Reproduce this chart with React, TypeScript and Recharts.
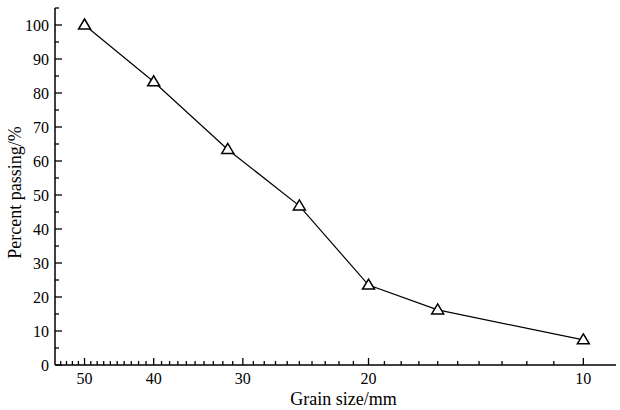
import { LineChart, Line, XAxis, YAxis, Label } from "recharts";

// grain sizes (mm) and percent passing
const sizes = [50, 40, 31.5, 25, 20, 16, 10];
const passing = [100, 83.3, 63.4, 46.8, 23.5, 16.2, 7.4];

const xMajor = [50, 40, 30, 20, 10];
const xTicks = [
  54, 53, 52, 51, 50, 49, 48, 47, 46, 45, 44, 43, 42, 41, 40, 39, 38, 37, 36, 35,
  34, 33, 32, 31, 30, 29, 28, 27, 26, 25, 24, 23, 22, 21, 20, 19, 18, 17, 16, 15,
  14, 13, 12, 11, 10,
];
const yMajor = [0, 10, 20, 30, 40, 50, 60, 70, 80, 90, 100];
const yTicks = [
  0, 5, 10, 15, 20, 25, 30, 35, 40, 45, 50, 55, 60, 65, 70, 75, 80, 85, 90, 95, 100, 105,
];

const data = sizes.map((s, i) => ({ size: s, pass: passing[i] }));

const FONT = "Liberation Serif";

function XTick(props: any) {
  const { x, y, payload } = props;
  const major = xMajor.includes(payload.value);
  return (
    <g>
      <line x1={x} y1={y} x2={x} y2={y - (major ? 7 : 4)} stroke="#000" strokeWidth={1.3} />
      {major && (
        <text x={x} y={y + 19} textAnchor="middle" fontSize={16} fontFamily={FONT} fill="#000">
          {payload.value}
        </text>
      )}
    </g>
  );
}

function YTick(props: any) {
  const { x, y, payload } = props;
  const major = yMajor.includes(payload.value);
  return (
    <g>
      <line x1={x} y1={y} x2={x + (major ? 7 : 4)} y2={y} stroke="#000" strokeWidth={1.3} />
      {major && (
        <text x={x - 6} y={y} dy="0.35em" textAnchor="end" fontSize={16} fontFamily={FONT} fill="#000">
          {payload.value}
        </text>
      )}
    </g>
  );
}

function Triangle(props: any) {
  const { cx, cy } = props;
  if (cx == null || cy == null) return null;
  return (
    <path
      d={`M${cx},${cy - 6} L${cx + 6},${cy + 4} L${cx - 6},${cy + 4} Z`}
      fill="#fff"
      stroke="#000"
      strokeWidth={1.5}
    />
  );
}

export default function App() {
  return (
    <div style={{ position: "absolute", left: 0, top: 0, background: "#fff" }}>
      <LineChart width={620} height={410} data={data} margin={{ top: 8, right: 4, left: 0, bottom: 0 }}>
        <XAxis
          dataKey="size"
          type="number"
          scale="log"
          domain={[9, 55]}
          reversed
          allowDataOverflow
          ticks={xTicks}
          interval={0}
          tickSize={0}
          tickMargin={0}
          tickLine={false}
          tick={<XTick />}
          height={45}
          axisLine={{ stroke: "#000", strokeWidth: 1.5 }}
        >
          <Label
            content={({ viewBox }: any) => (
              <text
                x={viewBox.x + viewBox.width / 2 + 8}
                y={viewBox.y + 40}
                textAnchor="middle"
                fontSize={18}
                fontFamily={FONT}
                fill="#000"
              >
                Grain size/mm
              </text>
            )}
          />
        </XAxis>
        <YAxis
          type="number"
          domain={[0, 105]}
          allowDataOverflow
          ticks={yTicks}
          interval={0}
          tickSize={0}
          tickMargin={0}
          tickLine={false}
          tick={<YTick />}
          width={55}
          axisLine={{ stroke: "#000", strokeWidth: 1.5 }}
        >
          <Label
            content={({ viewBox }: any) => (
              <text
                transform={`translate(${viewBox.x + 15}, ${viewBox.y + viewBox.height / 2 + 6}) rotate(-90)`}
                textAnchor="middle"
                dy="0.35em"
                fontSize={18}
                fontFamily={FONT}
                fill="#000"
              >
                Percent passing/%
              </text>
            )}
          />
        </YAxis>
        <Line
          dataKey="pass"
          type="linear"
          stroke="#000"
          strokeWidth={1.2}
          dot={<Triangle />}
          activeDot={false}
          isAnimationActive={false}
        />
      </LineChart>
    </div>
  );
}
